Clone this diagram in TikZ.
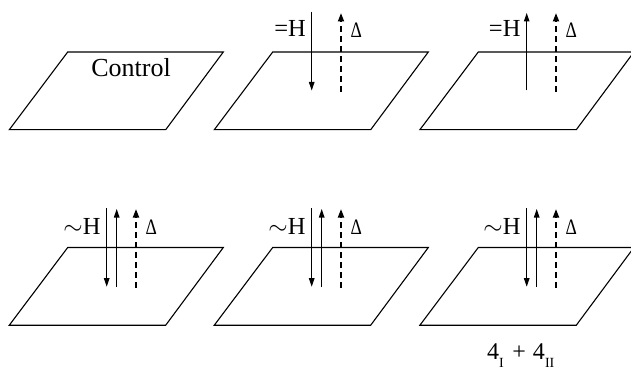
\documentclass[tikz,border=0pt]{standalone}
\usepackage{fontspec}
\setmainfont{Liberation Serif}
\usetikzlibrary{arrows.meta}
\newcommand\drawplane[3]{%
  \draw[planeline] (#1,#2) coordinate (#3tl) -- ++(155.6,0) coordinate (#3tr)
    -- ++(-57.6,77.7) coordinate (#3br) -- ++(-156.4,0) coordinate (#3bl) -- cycle;}
\newcommand\dlt{\scalebox{0.8}[1]{Δ}}
\newcommand\subfont{\fontsize{14}{14}\selectfont}
\begin{document}
\begin{tikzpicture}[x=1pt,y=-1pt,
  planeline/.style={line width=1.1pt, line join=miter},
  harrow/.style={line width=1.1pt, -{Triangle[length=8.5pt,width=5.5pt]}},
  darrow/.style={line width=1.8pt, dash pattern=on 6pt off 4pt, -{Triangle[length=8.5pt,width=6pt]}},
  hlab/.style={inner sep=0pt, font=\fontsize{24.5}{24.5}\selectfont, anchor=base east},
  dlab/.style={inner sep=0pt, font=\fontsize{22}{22}\selectfont, anchor=base west},
  ctl/.style={inner sep=0pt, font=\fontsize{26}{26}\selectfont, anchor=base}]
\useasboundingbox (0,0) rectangle (631,374);
\clip (0,0) rectangle (631,374);
% planes
\drawplane{67.7}{52}{p1}
\drawplane{272.7}{52}{p2}
\drawplane{478.3}{52}{p3}
\drawplane{67.7}{247.5}{p4}
\drawplane{272.7}{247.5}{p5}
\drawplane{478.3}{247.5}{p6}
% control
\node[ctl] (control) at (131,76.5) {Control};
% row 1, col 2
\coordinate (a2s) at (311.7,12); \coordinate (a2e) at (311.7,90.5);
\draw[harrow] (a2s) -- (a2e);
\coordinate (d2s) at (341,91.7); \coordinate (d2e) at (341,13);
\draw[darrow] (d2s) -- (d2e);
\node[hlab] (h2) at (306,36.7) {=H};
\node[dlab] (del2) at (350.5,37.3) {\dlt};
% row 1, col 3
\coordinate (a3s) at (526.7,90.5); \coordinate (a3e) at (526.7,13);
\draw[harrow] (a3s) -- (a3e);
\coordinate (d3s) at (556,91.7); \coordinate (d3e) at (556,13);
\draw[darrow] (d3s) -- (d3e);
\node[hlab] (h3) at (520.7,36.7) {=H};
\node[dlab] (del3) at (565.5,37.3) {\dlt};
% row 2
\foreach \n/\x in {4/106.7, 5/311.7, 6/526.7} {
  \coordinate (b\n s) at (\x,208.3); \coordinate (b\n e) at (\x,286.7);
  \draw[harrow] (b\n s) -- (b\n e);
  \coordinate (u\n s) at (\x+10,286.7); \coordinate (u\n e) at (\x+10,209);
  \draw[harrow] (u\n s) -- (u\n e);
  \coordinate (e\n s) at (\x+29.3,287.7); \coordinate (e\n e) at (\x+29.3,209);
  \draw[darrow] (e\n s) -- (e\n e);
  \node[hlab] (h\n) at (\x-6,234) {$\sim$H};
  \node[dlab] (del\n) at (\x+38.8,234) {\dlt};
}
% bottom label
\node[inner sep=0pt, anchor=base west, font=\fontsize{24}{24}\selectfont] (lab) at (487,359)
  {4\raisebox{-0.36em}{\subfont I}\hspace{0.35em}+\hspace{0.3em}4\raisebox{-0.36em}{\subfont II}};
\end{tikzpicture}
\end{document}
